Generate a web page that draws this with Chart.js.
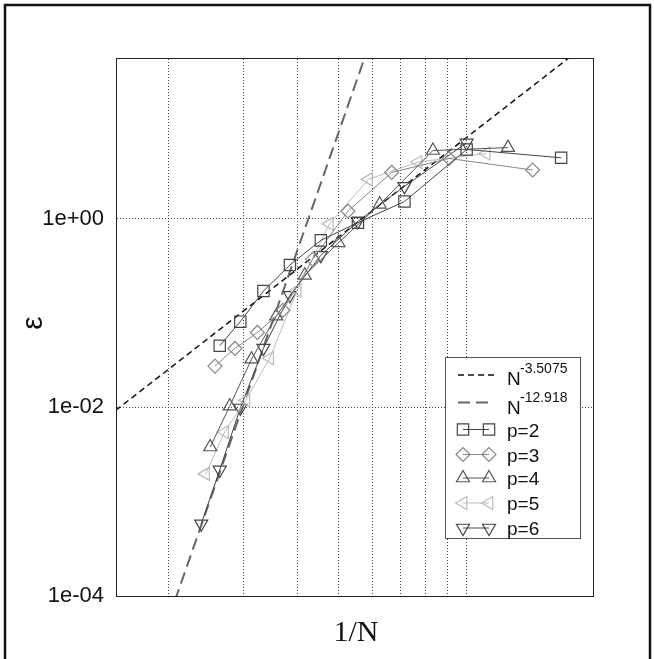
<!DOCTYPE html>
<html>
<head>
<meta charset="utf-8">
<script src="https://cdn.jsdelivr.net/npm/chart.js@4/dist/chart.umd.min.js"></script>
<style>
  html, body { margin: 0; padding: 0; background: #fff; }
  #wrap { width: 654px; height: 659px; }
</style>
</head>
<body>
<div id="wrap"><canvas id="errChart" width="654" height="659"></canvas></div>
<script>
// N values and errors, one pair of arrays per p
const nP2 = [38, 34, 30, 26, 22, 18, 14, 10, 6];
const errP2 = [0.045, 0.081, 0.171, 0.323, 0.589, 0.908, 1.52, 5.42, 4.42];
const nP3 = [39, 35, 31, 27, 23, 19, 15, 11, 7];
const errP3 = [0.0274, 0.0421, 0.0622, 0.107, 0.371, 1.20, 3.09, 4.35, 3.28];
const nP4 = [40, 36, 32, 28, 24, 20, 16, 12, 8];
const errP4 = [0.0038, 0.0103, 0.0324, 0.0925, 0.251, 0.555, 1.42, 5.28, 5.67];
const nP5 = [41, 37, 33, 29, 25, 21, 17, 13, 9];
const errP5 = [0.00197, 0.00548, 0.0119, 0.0332, 0.174, 0.881, 2.61, 3.99, 4.91];
const nP6 = [42, 38, 34, 30, 26, 22, 18, 14, 10];
const errP6 = [0.000582, 0.00217, 0.00984, 0.0424, 0.154, 0.409, 0.936, 2.20, 6.37];

// end points of the two fitted power lines
const fit1X = [0.015, 0.2];
const fit1Y = [0.0093, 83];
const fit2X = [0.02, 0.06];
const fit2Y = [5.9e-5, 86];

const xGrid = [0.02, 0.03, 0.04, 0.05, 0.06, 0.07, 0.08, 0.09, 0.1];
const yTicks = [1e-4, 1e-2, 1];
const yTickLabels = ['1e-04', '1e-02', '1e+00'];

const series = [
  { label: 'p=2', n: nP2, err: errP2, color: '#444', style: 'rect', rot: 0, r: 8 },
  { label: 'p=3', n: nP3, err: errP3, color: '#888', style: 'rectRot', rot: 0, r: 7 },
  { label: 'p=4', n: nP4, err: errP4, color: '#555', style: 'triangle', rot: 0, r: 7.5 },
  { label: 'p=5', n: nP5, err: errP5, color: '#bbb', style: 'triangle', rot: -90, r: 7.5 },
  { label: 'p=6', n: nP6, err: errP6, color: '#444', style: 'triangle', rot: 180, r: 7.5 },
];

function pts(xs, ys) {
  return xs.map((x, i) => ({ x: x, y: ys[i] }));
}

const datasets = series.map(s => ({
  label: s.label,
  data: s.n.map((n, i) => ({ x: 1 / n, y: s.err[i] })),
  borderColor: s.color,
  borderWidth: 1,
  pointStyle: s.style,
  pointRotation: s.rot,
  pointRadius: s.r,
  pointBorderColor: s.color,
  pointBorderWidth: 1.2,
  pointBackgroundColor: 'rgba(0,0,0,0)',
  tension: 0,
}));

datasets.push({
  label: 'fit1',
  data: pts(fit1X, fit1Y),
  borderColor: '#111',
  borderWidth: 1.5,
  borderDash: [6, 4],
  pointRadius: 0,
  clip: 0,
});
datasets.push({
  label: 'fit2',
  data: pts(fit2X, fit2Y),
  borderColor: '#666',
  borderWidth: 2,
  borderDash: [12, 6],
  pointRadius: 0,
  clip: 0,
});

function marker(ctx, style, rot, x, y, r, color) {
  ctx.save();
  ctx.strokeStyle = color;
  ctx.lineWidth = 1.2;
  ctx.beginPath();
  if (style === 'rect') {
    const s = Math.SQRT1_2 * r;
    ctx.rect(x - s, y - s, 2 * s, 2 * s);
  } else if (style === 'rectRot') {
    ctx.moveTo(x - r, y); ctx.lineTo(x, y - r); ctx.lineTo(x + r, y); ctx.lineTo(x, y + r);
    ctx.closePath();
  } else {
    let a = rot * Math.PI / 180;
    for (let k = 0; k < 3; k++) {
      const px = x + Math.sin(a) * r, py = y - Math.cos(a) * r;
      k === 0 ? ctx.moveTo(px, py) : ctx.lineTo(px, py);
      a += 2 * Math.PI / 3;
    }
    ctx.closePath();
  }
  ctx.stroke();
  ctx.restore();
}

const decorations = {
  id: 'decorations',
  beforeDraw(chart) {
    const ctx = chart.ctx;
    ctx.save();
    ctx.fillStyle = '#fff';
    ctx.fillRect(0, 0, chart.width, chart.height);
    ctx.strokeStyle = '#111';
    ctx.lineWidth = 2.5;
    ctx.strokeRect(5, 5, 645, 700);
    ctx.restore();
  },
  afterDraw(chart) {
    const ctx = chart.ctx;
    const a = chart.chartArea;
    ctx.save();
    // plot frame
    ctx.strokeStyle = '#222';
    ctx.lineWidth = 1;
    ctx.strokeRect(a.left - 0.5, a.top - 0.5, a.right - a.left + 1, a.bottom - a.top + 1);

    // axis titles
    ctx.fillStyle = '#111';
    ctx.font = '30px "Liberation Serif", "Times New Roman", serif';
    ctx.textAlign = 'center';
    ctx.textBaseline = 'alphabetic';
    ctx.fillText('1/N', 356, 641);
    ctx.save();
    ctx.translate(34, 323);
    ctx.rotate(-Math.PI / 2);
    ctx.font = '30px "Liberation Sans", Arial, sans-serif';
    ctx.textBaseline = 'middle';
    ctx.fillText('ε', 0, 0);
    ctx.restore();

    // legend
    ctx.fillStyle = '#fff';
    ctx.fillRect(445, 357, 135, 181);
    ctx.strokeStyle = '#555';
    ctx.lineWidth = 1;
    ctx.strokeRect(445.5, 357.5, 135, 181);

    const x0 = 458, x1 = 494, tx = 507;
    ctx.textAlign = 'left';
    ctx.textBaseline = 'alphabetic';
    ctx.fillStyle = '#111';

    // fit rows
    ctx.save();
    ctx.strokeStyle = '#111'; ctx.lineWidth = 1.5; ctx.setLineDash([6, 4]);
    ctx.beginPath(); ctx.moveTo(x0, 375); ctx.lineTo(x1, 375); ctx.stroke();
    ctx.strokeStyle = '#666'; ctx.lineWidth = 2; ctx.setLineDash([12, 6]);
    ctx.beginPath(); ctx.moveTo(x0, 402.5); ctx.lineTo(x1, 402.5); ctx.stroke();
    ctx.restore();
    ctx.font = '19px "Liberation Sans", Arial, sans-serif';
    ctx.fillText('N', tx, 385);
    ctx.fillText('N', tx, 414);
    ctx.font = '14px "Liberation Sans", Arial, sans-serif';
    ctx.fillText('-3.5075', tx + 13, 373);
    ctx.fillText('-12.918', tx + 13, 402);

    const rows = [429.5, 454.5, 478, 503, 528];
    series.forEach((s, i) => {
      const y = rows[i];
      ctx.save();
      ctx.strokeStyle = s.color; ctx.lineWidth = 1;
      ctx.beginPath(); ctx.moveTo(x0 + 5, y); ctx.lineTo(x1 - 5, y); ctx.stroke();
      ctx.restore();
      marker(ctx, s.style, s.rot, x0 + 5, y, s.r, s.color);
      marker(ctx, s.style, s.rot, x1 - 5, y, s.r, s.color);
      ctx.fillStyle = '#111';
      ctx.font = '19px "Liberation Sans", Arial, sans-serif';
      ctx.fillText(s.label, tx, y + 7);
    });
    ctx.restore();
  }
};

const ctx = document.getElementById('errChart').getContext('2d');
const errChart = new Chart(ctx, {
  type: 'line',
  data: { datasets: datasets },
  options: {
    responsive: false,
    animation: false,
    devicePixelRatio: 1,
    layout: { padding: { left: 0, top: 59, right: 61, bottom: 0 } },
    plugins: { legend: { display: false }, tooltip: { enabled: false } },
    scales: {
      x: {
        type: 'logarithmic',
        min: 0.0151,
        max: 0.198,
        afterBuildTicks: (scale) => { scale.ticks = xGrid.map(v => ({ value: v })); },
        afterFit: (scale) => { scale.height = 63; },
        ticks: { display: false },
        grid: { color: '#444', lineWidth: 1, drawTicks: false },
        border: { display: false, dash: [1, 2] },
      },
      y: {
        type: 'logarithmic',
        min: 1e-4,
        max: 49.3,
        afterBuildTicks: (scale) => { scale.ticks = yTicks.map(v => ({ value: v })); },
        afterFit: (scale) => { scale.width = 117; },
        ticks: {
          autoSkip: false,
          padding: 13,
          color: '#111',
          font: { family: '"Liberation Sans", Arial, sans-serif', size: 22 },
          callback: (v) => {
            const i = yTicks.findIndex(t => Math.abs(Math.log10(t) - Math.log10(v)) < 1e-6);
            return i >= 0 ? yTickLabels[i] : '';
          },
        },
        grid: { color: '#444', lineWidth: 1, drawTicks: false },
        border: { display: false, dash: [1, 2] },
      },
    },
  },
  plugins: [decorations],
});
</script>
</body>
</html>
